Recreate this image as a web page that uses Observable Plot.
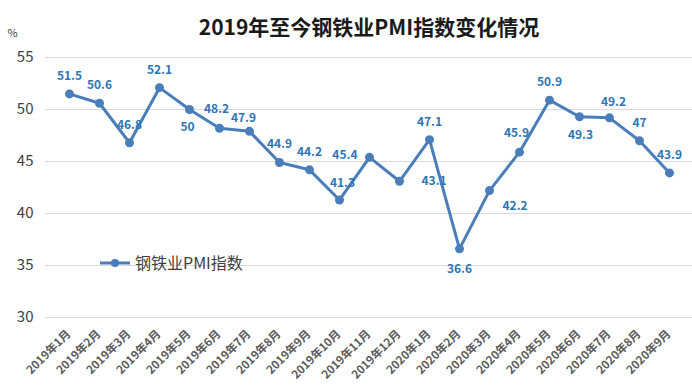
<!DOCTYPE html>
<html><head><meta charset="utf-8">
<script src="https://cdn.jsdelivr.net/npm/d3@7"></script>
<script src="https://cdn.jsdelivr.net/npm/@observablehq/plot@0.6"></script>
<style>body{margin:0;background:#fff;} svg{display:block;}</style>
</head><body><div id="chart"></div>
<script>
const months = ["2019年1月","2019年2月","2019年3月","2019年4月","2019年5月","2019年6月","2019年7月","2019年8月","2019年9月","2019年10月","2019年11月","2019年12月","2020年1月","2020年2月","2020年3月","2020年4月","2020年5月","2020年6月","2020年7月","2020年8月","2020年9月"];
const pmi = [51.5,50.6,46.8,52.1,50,48.2,47.9,44.9,44.2,41.3,45.4,43.1,47.1,36.6,42.2,45.9,50.9,49.3,49.2,47,43.9];
const yTicks = [30,35,40,45,50,55];
const title = "2019年至今钢铁业PMI指数变化情况";
const seriesName = "钢铁业PMI指数";

const data = months.map((m,i)=>({month:m, value:pmi[i]}));
// label placement (layout only)
const place = {
  "2019年5月":{dx:-2,dy:18},
  "2019年6月":{dx:-3,dy:-19},
  "2019年7月":{dx:-6,dy:-13},
  "2019年10月":{dx:3,dy:-17},
  "2019年11月":{dx:-12,dy:-2,anchor:"end"},
  "2019年12月":{dx:22,dy:0,anchor:"start"},
  "2020年2月":{dx:0,dy:20},
  "2020年3月":{dx:13,dy:16,anchor:"start"},
  "2020年4月":{dx:-3,dy:-19},
  "2020年6月":{dx:1,dy:18},
  "2020年7月":{dx:4,dy:-16}
};
const P = d => place[d.month] || {dx:0,dy:-18,anchor:"middle"};
const blue = "#4a7ebb", labelBlue = "#2e75b6";
const font = "'Noto Sans CJK SC', 'Noto Sans', sans-serif";

const labelMarks = [];
const groups = {};
data.forEach(d=>{const p=P(d); const k=[p.dx,p.dy,p.anchor||"middle"].join("|"); (groups[k]=groups[k]||[]).push(d);});
for (const k in groups) {
  const [dx,dy,anchor] = k.split("|");
  labelMarks.push(Plot.text(groups[k], {x:"month", y:"value", text:d=>String(d.value), dx:+dx, dy:+dy, textAnchor:anchor, fill:labelBlue, fontSize:12, fontWeight:"bold"}));
}

const chart = Plot.plot({
  width:692, height:385,
  marginTop:57, marginBottom:68, marginLeft:45, marginRight:0,
  style:{fontFamily:font, background:"#fff"},
  x:{type:"point", domain:months, padding:0.5, axis:null},
  y:{domain:[30,55], axis:null},
  marks:[
    Plot.ruleY(yTicks, {stroke:"#d9d9d9", strokeWidth:1}),
    Plot.text(yTicks, {y:d=>d, text:d=>String(d), frameAnchor:"left", dx:-12, textAnchor:"end", fontSize:15, fill:"#404040"}),
    Plot.line(data, {x:"month", y:"value", stroke:blue, strokeWidth:3}),
    Plot.dot(data, {x:"month", y:"value", r:4.5, fill:blue}),
    ...labelMarks,
    Plot.text(months, {x:d=>d, text:d=>d, frameAnchor:"bottom", rotate:-45, textAnchor:"end", dx:2, dy:17, fontSize:11.5, fontWeight:"bold", fill:"#595959"}),
    Plot.text([title], {frameAnchor:"top", dy:-37, fontSize:21, fontWeight:"bold", fill:"#1a1a1a"}),
    Plot.text(["%"], {frameAnchor:"top-left", dx:-38, dy:-28, fontSize:11, fill:"#404040", textAnchor:"start"})
  ]
});
const svg = d3.select(chart);
const lg = svg.append("g");
lg.append("line").attr("x1",100).attr("x2",130).attr("y1",263).attr("y2",263).attr("stroke",blue).attr("stroke-width",3);
lg.append("circle").attr("cx",115).attr("cy",263).attr("r",4).attr("fill",blue);
lg.append("text").attr("x",135).attr("y",263).attr("dy","0.35em").attr("text-anchor","start").attr("font-size",16).attr("fill","#404040").attr("font-family",font).text(seriesName);
document.getElementById("chart").appendChild(chart);
</script></body></html>
